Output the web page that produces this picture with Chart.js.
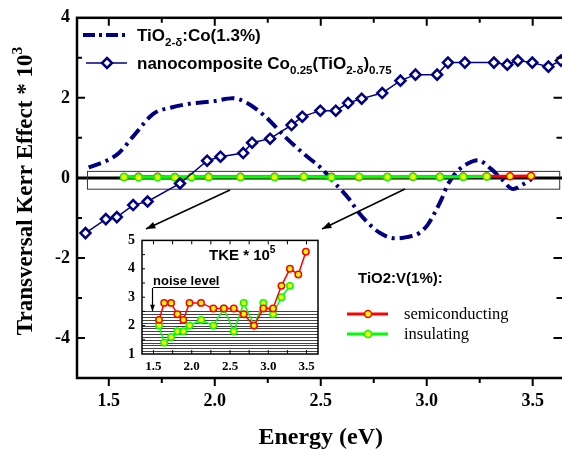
<!DOCTYPE html>
<html>
<head>
<meta charset="utf-8">
<script src="https://cdn.jsdelivr.net/npm/chart.js@4.4.0/dist/chart.umd.min.js"></script>
<style>
  html, body { margin: 0; padding: 0; background: #fff; overflow: hidden; }
  #wrap { position: relative; width: 562px; height: 450px; overflow: hidden; }
  #main { position: absolute; left: 0; top: 0; }
  #inset { position: absolute; left: 100px; top: 225px; }
</style>
</head>
<body>
<div id="wrap">
  <canvas id="main" width="572" height="450"></canvas>
  <canvas id="inset" width="230" height="155"></canvas>
</div>
<script>
// TiO2-d:Co(1.3%) curve
const coEnergy = [1.405, 1.49, 1.549, 1.617, 1.71, 1.795, 1.88, 1.998, 2.083, 2.15, 2.235, 2.337, 2.42, 2.498, 2.565, 2.634, 2.68, 2.73, 2.778, 2.849, 2.905, 2.967, 3.006, 3.038, 3.07, 3.1, 3.147, 3.194, 3.24, 3.305, 3.353, 3.408, 3.455, 3.495];
const coKerr = [0.26, 0.43, 0.63, 1.05, 1.6, 1.76, 1.85, 1.92, 1.99, 1.88, 1.55, 1.0, 0.6, 0.26, -0.12, -0.53, -0.87, -1.16, -1.37, -1.51, -1.48, -1.37, -1.16, -0.87, -0.53, -0.16, 0.18, 0.36, 0.44, 0.22, -0.03, -0.28, -0.16, -0.03];

// nanocomposite Co0.25(TiO2-d)0.75
const ncEnergy = [1.39, 1.486, 1.538, 1.615, 1.683, 1.836, 1.964, 2.027, 2.134, 2.176, 2.261, 2.362, 2.413, 2.498, 2.571, 2.629, 2.693, 2.79, 2.876, 2.947, 3.049, 3.1, 3.18, 3.317, 3.38, 3.43, 3.498, 3.574, 3.633];
const ncKerr = [-1.38, -1.03, -0.98, -0.68, -0.59, -0.14, 0.43, 0.53, 0.62, 0.88, 0.98, 1.32, 1.53, 1.68, 1.68, 1.87, 1.98, 2.12, 2.43, 2.58, 2.58, 2.88, 2.88, 2.88, 2.83, 2.93, 2.88, 2.78, 2.93];

// TiO2:V(1%) - TKE * 10^5
const vEnergy = [1.572, 1.64, 1.73, 1.812, 1.89, 1.971, 2.121, 2.282, 2.42, 2.55, 2.68, 2.814, 2.935, 3.062, 3.172, 3.283, 3.393, 3.492];
const semiTke = [2.2, 2.8, 2.8, 2.4, 2.2, 2.8, 2.8, 2.6, 2.6, 2.6, 2.4, 2.0, 2.6, 2.6, 3.4, 4.0, 3.8, 4.6];
const insulTke = [2.0, 1.4, 1.6, 1.8, 1.8, 2.0, 2.2, 2.0, 2.6, 1.8, 2.8, 2.0, 2.8, 2.4, 3.0, 3.4];

const xTicks = [1.5, 2.0, 2.5, 3.0, 3.5];
const yTicks = [-4, -2, 0, 2, 4];
const insetYTicks = [1, 2, 3, 4, 5];
const noiseLevel = 2.5;

const SERIF = '"Liberation Serif", "Times New Roman", serif';
const SANS = '"Liberation Sans", Arial, sans-serif';
const NAVY = '#000080';

const pts = (xs, ys, k) => ys.map((y, i) => ({ x: xs[i], y: y * k }));

function arrow(ctx, x1, y1, x2, y2, head) {
  ctx.beginPath(); ctx.moveTo(x1, y1); ctx.lineTo(x2, y2); ctx.stroke();
  const a = Math.atan2(y2 - y1, x2 - x1);
  ctx.beginPath();
  ctx.moveTo(x2, y2);
  ctx.lineTo(x2 - head * Math.cos(a - 0.35), y2 - head * Math.sin(a - 0.35));
  ctx.lineTo(x2 - head * Math.cos(a + 0.35), y2 - head * Math.sin(a + 0.35));
  ctx.closePath(); ctx.fill();
}

// text with sub / sup parts
function richText(ctx, x, y, parts, size, weight, family) {
  parts.forEach(p => {
    const s = p.s ? size * 0.68 : size;
    ctx.font = weight + ' ' + s + 'px ' + family;
    const dy = p.s === 'sub' ? size * 0.3 : p.s === 'sup' ? -size * 0.45 : 0;
    ctx.fillText(p.t, x, y + dy);
    x += ctx.measureText(p.t).width;
  });
  return x;
}
function richWidth(ctx, parts, size, weight, family) {
  let w = 0;
  parts.forEach(p => {
    ctx.font = weight + ' ' + (p.s ? size * 0.68 : size) + 'px ' + family;
    w += ctx.measureText(p.t).width;
  });
  return w;
}

function marker(ctx, x, y, color) {
  ctx.beginPath(); ctx.arc(x, y, 3.5, 0, Math.PI * 2);
  ctx.fillStyle = '#ffff00'; ctx.fill();
  ctx.lineWidth = 1.5; ctx.strokeStyle = color; ctx.stroke();
}

const mainDecor = {
  id: 'mainDecor',
  beforeDatasetsDraw(chart) {
    const { ctx, chartArea: a, scales: { x, y } } = chart;
    ctx.save();
    // zero line
    ctx.strokeStyle = '#000'; ctx.lineWidth = 3;
    ctx.beginPath(); ctx.moveTo(a.left, y.getPixelForValue(0)); ctx.lineTo(a.right, y.getPixelForValue(0)); ctx.stroke();
    // zoom box
    ctx.lineWidth = 1; ctx.strokeStyle = '#333';
    const bx1 = x.getPixelForValue(1.397), bx2 = x.getPixelForValue(3.625);
    const by1 = y.getPixelForValue(0.175), by2 = y.getPixelForValue(-0.27);
    ctx.strokeRect(bx1 + 0.5, by1 + 0.5, bx2 - bx1, by2 - by1);
    ctx.restore();
  },
  afterDatasetsDraw(chart) {
    const { ctx, chartArea: a, scales: { x, y } } = chart;
    ctx.save();
    // frame
    ctx.strokeStyle = '#000'; ctx.lineWidth = 2.5;
    ctx.strokeRect(a.left, a.top, a.right - a.left, a.bottom - a.top);
    // ticks
    ctx.lineWidth = 2;
    for (let v = 1.5; v < 3.66; v += 0.25) {
      const px = x.getPixelForValue(v);
      const major = Math.abs(v * 2 - Math.round(v * 2)) < 1e-6;
      const len = major ? 8 : 5;
      ctx.beginPath();
      ctx.moveTo(px, a.top); ctx.lineTo(px, a.top + len);
      ctx.moveTo(px, a.bottom); ctx.lineTo(px, a.bottom + len);
      ctx.stroke();
    }
    for (let v = -4; v <= 3; v++) {
      const py = y.getPixelForValue(v);
      const len = v % 2 === 0 ? 8 : 5;
      ctx.beginPath();
      ctx.moveTo(a.left, py); ctx.lineTo(a.left + len, py);
      ctx.moveTo(a.right, py); ctx.lineTo(a.right - len - 3, py);
      ctx.stroke();
    }
    // arrows to inset
    ctx.fillStyle = '#000'; ctx.lineWidth = 1.5;
    arrow(ctx, 230, 190, 146, 229, 10);
    arrow(ctx, 405, 189, 322, 229, 10);

    // legend
    ctx.strokeStyle = NAVY; ctx.lineWidth = 4; ctx.setLineDash([12, 4, 3, 4]);
    ctx.beginPath(); ctx.moveTo(83, 35); ctx.lineTo(128, 35); ctx.stroke();
    ctx.setLineDash([]);
    ctx.lineWidth = 1.5;
    ctx.beginPath(); ctx.moveTo(86, 63); ctx.lineTo(127, 63); ctx.stroke();
    ctx.beginPath(); ctx.moveTo(107, 58); ctx.lineTo(112, 63); ctx.lineTo(107, 68); ctx.lineTo(102, 63); ctx.closePath();
    ctx.fillStyle = '#fff'; ctx.fill(); ctx.lineWidth = 2.5; ctx.stroke();
    ctx.fillStyle = '#000'; ctx.textBaseline = 'alphabetic'; ctx.textAlign = 'left';
    richText(ctx, 137, 41, [{ t: 'TiO' }, { t: '2-\u03b4', s: 'sub' }, { t: ':Co(1.3%)' }], 17, 'bold', SANS);
    richText(ctx, 137, 69, [{ t: 'nanocomposite Co' }, { t: '0.25', s: 'sub' }, { t: '(TiO' }, { t: '2-\u03b4', s: 'sub' }, { t: ')' }, { t: '0.75', s: 'sub' }], 17, 'bold', SANS);

    // inset legend
    ctx.font = 'bold 15px ' + SANS;
    ctx.fillText('TiO2:V(1%):', 358, 283);
    ctx.lineWidth = 3;
    ctx.strokeStyle = '#ff0000';
    ctx.beginPath(); ctx.moveTo(347, 314); ctx.lineTo(388, 314); ctx.stroke();
    marker(ctx, 368, 314, '#ff0000');
    ctx.lineWidth = 3;
    ctx.strokeStyle = '#00ff00';
    ctx.beginPath(); ctx.moveTo(347, 334); ctx.lineTo(388, 334); ctx.stroke();
    marker(ctx, 368, 334, '#00ff00');
    ctx.fillStyle = '#000';
    ctx.font = '16.5px ' + SERIF;
    ctx.fillText('semiconducting', 404, 319);
    ctx.fillText('insulating', 404, 339);

    // axis titles
    ctx.font = 'bold 24px ' + SERIF; ctx.textAlign = 'center';
    ctx.fillText('Energy (eV)', (a.left + a.right) / 2, 444);
    const tparts = [{ t: 'Transversal Kerr Effect * 10' }, { t: '3', s: 'sup' }];
    const tw = richWidth(ctx, tparts, 23, 'bold', SERIF);
    ctx.translate(32, 191); ctx.rotate(-Math.PI / 2);
    ctx.textAlign = 'left';
    richText(ctx, -tw / 2, 0, tparts, 23, 'bold', SERIF);
    ctx.restore();
  }
};

new Chart(document.getElementById('main'), {
  type: 'line',
  data: {
    datasets: [
      { label: 'TiO2-d:Co(1.3%)', data: pts(coEnergy, coKerr, 1), borderColor: NAVY, borderWidth: 4,
        borderDash: [13, 5, 3, 5], pointRadius: 0, cubicInterpolationMode: 'monotone', order: 4 },
      { label: 'semiconducting', data: pts(vEnergy, semiTke, 0.01), borderColor: '#ff0000', borderWidth: 3,
        pointRadius: 3.5, pointBackgroundColor: '#ffff00', pointBorderColor: '#ff0000', pointBorderWidth: 1.5, order: 3 },
      { label: 'insulating', data: pts(vEnergy, insulTke, 0.01), borderColor: '#00ff00', borderWidth: 3,
        pointRadius: 3.5, pointBackgroundColor: '#ffff00', pointBorderColor: '#00ff00', pointBorderWidth: 1.5, order: 2 },
      { label: 'nanocomposite', data: pts(ncEnergy, ncKerr, 1), borderColor: NAVY, borderWidth: 1.5,
        pointStyle: 'rectRot', pointRadius: 5, pointBackgroundColor: '#fff', pointBorderColor: NAVY, pointBorderWidth: 2.5, order: 1 }
    ]
  },
  options: {
    responsive: false,
    animation: false,
    layout: { padding: { top: 17, right: 7, left: 0, bottom: 0 } },
    plugins: { legend: { display: false }, tooltip: { enabled: false } },
    scales: {
      x: {
        type: 'linear', min: 1.35, max: 3.65,
        grid: { display: false, drawTicks: false }, border: { display: false },
        afterBuildTicks: ax => { ax.ticks = xTicks.map(v => ({ value: v })); },
        afterFit: ax => { ax.height = 72; },
        ticks: { padding: 13, color: '#000', maxRotation: 0, font: { family: SERIF, weight: 'bold', size: 18 }, callback: v => v.toFixed(1) }
      },
      y: {
        min: -5, max: 4,
        grid: { display: false, drawTicks: false }, border: { display: false },
        afterBuildTicks: ax => { ax.ticks = yTicks.map(v => ({ value: v })); },
        afterFit: ax => { ax.width = 77; },
        ticks: { padding: 7, color: '#000', font: { family: SERIF, weight: 'bold', size: 18 } }
      }
    }
  },
  plugins: [mainDecor]
});

const insetDecor = {
  id: 'insetDecor',
  beforeDatasetsDraw(chart) {
    const { ctx, chartArea: a, scales: { y } } = chart;
    ctx.save();
    ctx.strokeStyle = '#444'; ctx.lineWidth = 1;
    for (let v = 1.1; v <= noiseLevel + 0.001; v += 0.1) {
      const py = Math.round(y.getPixelForValue(v)) + 0.5;
      ctx.beginPath(); ctx.moveTo(a.left, py); ctx.lineTo(a.right, py); ctx.stroke();
    }
    ctx.restore();
  },
  afterDatasetsDraw(chart) {
    const { ctx, chartArea: a, scales: { x, y } } = chart;
    ctx.save();
    ctx.strokeStyle = '#000'; ctx.lineWidth = 1.5;
    ctx.strokeRect(a.left, a.top, a.right - a.left, a.bottom - a.top);
    ctx.lineWidth = 1;
    for (let v = 1.5; v < 3.66; v += 0.25) {
      const px = x.getPixelForValue(v);
      ctx.beginPath();
      ctx.moveTo(px, a.top); ctx.lineTo(px, a.top + 4);
      ctx.moveTo(px, a.bottom); ctx.lineTo(px, a.bottom - 4);
      ctx.stroke();
    }
    for (let v = 1.5; v < 5; v += 0.5) {
      const py = y.getPixelForValue(v);
      ctx.beginPath(); ctx.moveTo(a.left, py); ctx.lineTo(a.left + 3, py); ctx.stroke();
    }
    ctx.fillStyle = '#000';
    richText(ctx, 109, 35, [{ t: 'TKE * 10' }, { t: '5', s: 'sup' }], 15, 'bold', SANS);
    ctx.font = 'bold 13px ' + SANS;
    ctx.fillText('noise level', 53, 60);
    const w = ctx.measureText('noise level').width;
    ctx.lineWidth = 1.2;
    ctx.beginPath(); ctx.moveTo(53, 62.5); ctx.lineTo(53 + w, 62.5); ctx.stroke();
    arrow(ctx, 52.5, 63, 52.5, y.getPixelForValue(noiseLevel), 7);
    ctx.restore();
  }
};

new Chart(document.getElementById('inset'), {
  type: 'line',
  data: {
    datasets: [
      { label: 'semiconducting', data: pts(vEnergy, semiTke, 1), borderColor: '#ff0000', borderWidth: 1.5,
        pointRadius: 3.2, pointBackgroundColor: '#ffff00', pointBorderColor: '#ff0000', pointBorderWidth: 1.5 },
      { label: 'insulating', data: pts(vEnergy, insulTke, 1), borderColor: '#00ff00', borderWidth: 1.5,
        pointRadius: 3.2, pointBackgroundColor: '#ffff00', pointBorderColor: '#00ff00', pointBorderWidth: 1.5 }
    ]
  },
  options: {
    responsive: false,
    animation: false,
    layout: { padding: { top: 14, right: 12, left: 0, bottom: 0 } },
    plugins: { legend: { display: false }, tooltip: { enabled: false } },
    scales: {
      x: {
        type: 'linear', min: 1.35, max: 3.65,
        grid: { display: false, drawTicks: false }, border: { display: false },
        afterBuildTicks: ax => { ax.ticks = xTicks.map(v => ({ value: v })); },
        afterFit: ax => { ax.height = 26; },
        ticks: { padding: 5, color: '#000', maxRotation: 0, font: { family: SERIF, weight: 'bold', size: 13 }, callback: v => v.toFixed(1) }
      },
      y: {
        min: 1, max: 5,
        grid: { display: false, drawTicks: false }, border: { display: false },
        afterBuildTicks: ax => { ax.ticks = insetYTicks.map(v => ({ value: v })); },
        afterFit: ax => { ax.width = 42; },
        ticks: { padding: 7, color: '#000', font: { family: SERIF, weight: 'bold', size: 14 } }
      }
    }
  },
  plugins: [insetDecor]
});
</script>
</body>
</html>
